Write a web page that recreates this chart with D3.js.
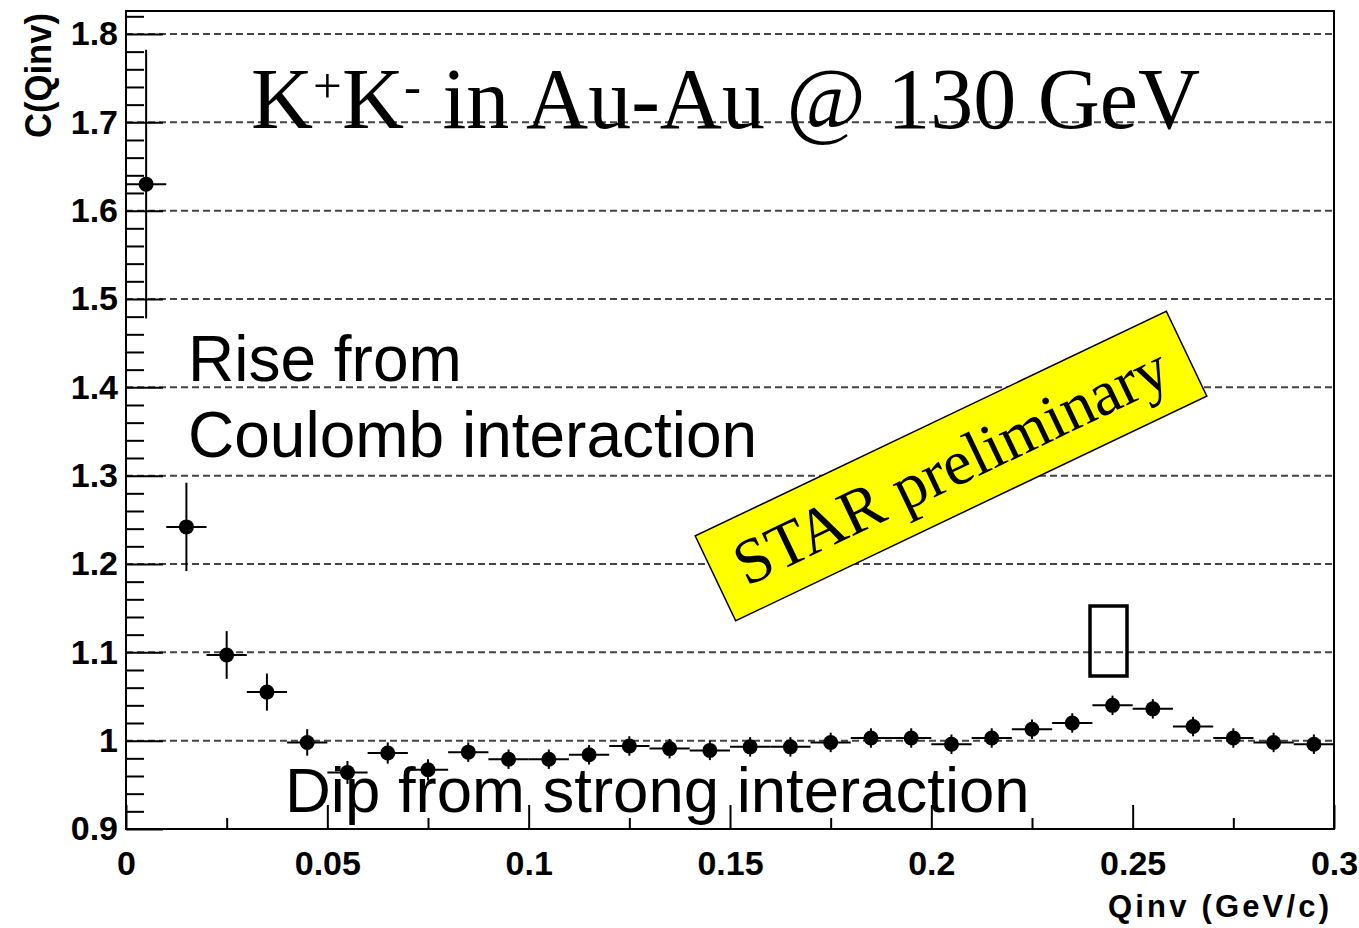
<!DOCTYPE html>
<html>
<head>
<meta charset="utf-8">
<script src="https://cdn.jsdelivr.net/npm/d3@7"></script>
<style>
	body { margin: 0; background: #fff; }
	svg { display: block; }
	.tick text { font-family: "Liberation Sans", Arial, sans-serif; font-weight: bold; fill: #000; }
</style>
</head>
<body>
<div id="chart"></div>
<script>
// bin centres (GeV/c), correlation values and their errors
var qinv = [0.005, 0.015, 0.025, 0.035, 0.045, 0.055, 0.065, 0.075, 0.085, 0.095,
	0.105, 0.115, 0.125, 0.135, 0.145, 0.155, 0.165, 0.175, 0.185, 0.195,
	0.205, 0.215, 0.225, 0.235, 0.245, 0.255, 0.265, 0.275, 0.285, 0.295];
var cValues = [1.630, 1.242, 1.097, 1.055, 0.998, 0.964, 0.986, 0.967, 0.987, 0.979,
	0.979, 0.984, 0.994, 0.991, 0.989, 0.993, 0.993, 0.998, 1.003, 1.003,
	0.996, 1.003, 1.013, 1.020, 1.040, 1.036, 1.016, 1.003, 0.998, 0.996];
var cErrors = [0.152, 0.050, 0.027, 0.021, 0.015, 0.013, 0.012, 0.012, 0.011, 0.011,
	0.011, 0.011, 0.011, 0.011, 0.011, 0.011, 0.011, 0.011, 0.011, 0.011,
	0.011, 0.011, 0.011, 0.011, 0.011, 0.011, 0.011, 0.011, 0.011, 0.011];
var binHalf = 0.005;

var xMajor = [0, 0.05, 0.1, 0.15, 0.2, 0.25, 0.3];
var xMinor = [0.025, 0.075, 0.125, 0.175, 0.225, 0.275];
var yMajor = [0.9, 1.0, 1.1, 1.2, 1.3, 1.4, 1.5, 1.6, 1.7, 1.8];
var yMinor = [0.92, 0.94, 0.96, 0.98, 1.02, 1.04, 1.06, 1.08, 1.12, 1.14, 1.16, 1.18,
	1.22, 1.24, 1.26, 1.28, 1.32, 1.34, 1.36, 1.38, 1.42, 1.44, 1.46, 1.48,
	1.52, 1.54, 1.56, 1.58, 1.62, 1.64, 1.66, 1.68, 1.72, 1.74, 1.76, 1.78, 1.82];
var gridValues = [1.0, 1.1, 1.2, 1.3, 1.4, 1.5, 1.6, 1.7, 1.8];

var settings = {
	width: 1359,
	height: 928,
	left: 126, right: 1334, top: 11, bottom: 829
};

var svg = d3.select('#chart').append('svg')
	.attr('width', settings.width)
	.attr('height', settings.height)

var x = d3.scaleLinear().domain([0, 0.3]).range([settings.left, settings.right])
var y = d3.scaleLinear().domain([0.9, 1.826]).range([settings.bottom, settings.top])

/*dashed grid*/
svg.append('g').selectAll('line')
	.data(gridValues).enter()
	.append('line')
	.attr('x1', settings.left).attr('x2', settings.right)
	.attr('y1', function(d){ return y(d) }).attr('y2', function(d){ return y(d) })
	.attr('stroke', '#444').attr('stroke-width', 2)
	.attr('stroke-dasharray', '7,4')

/*frame*/
svg.append('rect')
	.attr('x', settings.left).attr('y', settings.top)
	.attr('width', settings.right - settings.left)
	.attr('height', settings.bottom - settings.top)
	.attr('fill', 'none').attr('stroke', '#000').attr('stroke-width', 2)

/*axes, ticks point inwards*/
var yAxis = svg.append('g').attr('transform', 'translate(' + settings.left + ',0)')
	.call(d3.axisLeft(y).tickValues(yMajor).tickSize(-37).tickPadding(8)
		.tickFormat(function(d){ return d3.format('.1f')(d).replace('1.0', '1') }))
yAxis.selectAll('text').style('font-size', '34px')
svg.append('g').attr('transform', 'translate(' + settings.left + ',0)')
	.call(d3.axisLeft(y).tickValues(yMinor).tickSize(-18).tickFormat(''))

var xAxis = svg.append('g').attr('transform', 'translate(0,' + settings.bottom + ')')
	.call(d3.axisBottom(x).tickValues(xMajor).tickSize(-24).tickPadding(22)
		.tickFormat(function(d){ return d === 0 ? '0' : String(d) }))
xAxis.selectAll('text').style('font-size', '34px')
svg.append('g').attr('transform', 'translate(0,' + settings.bottom + ')')
	.call(d3.axisBottom(x).tickValues(xMinor).tickSize(-11).tickFormat(''))

svg.selectAll('.domain').remove()
svg.selectAll('.tick line').attr('stroke', '#000').attr('stroke-width', 2)

/*axis titles*/
svg.append('text')
	.attr('transform', 'translate(51,13) rotate(-90)')
	.attr('text-anchor', 'end')
	.attr('textLength', 125).attr('lengthAdjust', 'spacingAndGlyphs')
	.style('font-family', '"Liberation Sans", Arial, sans-serif')
	.style('font-weight', 'bold').style('font-size', '36px')
	.text('C(Qinv)')

svg.append('text')
	.attr('x', 1329).attr('y', 917)
	.attr('text-anchor', 'end')
	.attr('textLength', 221)
	.style('font-family', '"Liberation Sans", Arial, sans-serif')
	.style('font-weight', 'bold').style('font-size', '31px')
	.text('Qinv (GeV/c)')

/*data points with error bars*/
var pts = qinv.map(function(q, i){ return { q: q, c: cValues[i], e: cErrors[i] } })
var marks = svg.append('g').selectAll('g')
	.data(pts).enter().append('g')

marks.append('line')
	.attr('x1', function(d){ return x(d.q - binHalf) })
	.attr('x2', function(d){ return x(d.q + binHalf) })
	.attr('y1', function(d){ return y(d.c) })
	.attr('y2', function(d){ return y(d.c) })
	.attr('stroke', '#000').attr('stroke-width', 2)
marks.append('line')
	.attr('x1', function(d){ return x(d.q) })
	.attr('x2', function(d){ return x(d.q) })
	.attr('y1', function(d){ return y(d.c - d.e) })
	.attr('y2', function(d){ return y(d.c + d.e) })
	.attr('stroke', '#000').attr('stroke-width', 2)
marks.append('circle')
	.attr('cx', function(d){ return x(d.q) })
	.attr('cy', function(d){ return y(d.c) })
	.attr('r', 7.5).attr('fill', '#000')

/*annotations*/
var title = svg.append('text')
	.attr('x', 251).attr('y', 128)
	.style('font-family', '"Liberation Serif", "Times New Roman", serif')
	.style('font-size', '86px')
title.append('tspan').text('K')
title.append('tspan').attr('dy', -25).style('font-size', '51px').text('+')
title.append('tspan').attr('dy', 25).text('K')
title.append('tspan').attr('dy', -25).style('font-size', '51px').text('-')
title.append('tspan').attr('dy', 25).text(' in Au-Au @ 130 GeV')

var sans = '"Liberation Sans", Arial, sans-serif'
svg.append('text').attr('x', 188).attr('y', 381)
	.style('font-family', sans).style('font-size', '64px').text('Rise from')
svg.append('text').attr('x', 188).attr('y', 457)
	.style('font-family', sans).style('font-size', '64px').text('Coulomb interaction')
svg.append('text').attr('x', 285).attr('y', 812)
	.style('font-family', sans).style('font-size', '63.5px').text('Dip from strong interaction')

/*STAR preliminary stamp*/
var stamp = svg.append('g').attr('transform', 'translate(951,466) rotate(-25.5)')
stamp.append('rect')
	.attr('x', -261).attr('y', -47).attr('width', 522).attr('height', 94)
	.attr('fill', '#ffff00').attr('stroke', '#000').attr('stroke-width', 1.5)
stamp.append('text')
	.attr('x', 0).attr('y', 21)
	.attr('text-anchor', 'middle')
	.style('font-family', '"Liberation Serif", "Times New Roman", serif')
	.style('font-size', '64px')
	.text('STAR preliminary')

/*empty glyph box*/
svg.append('rect')
	.attr('x', 1090).attr('y', 606).attr('width', 37).attr('height', 70)
	.attr('fill', 'none').attr('stroke', '#000').attr('stroke-width', 3.5)
</script>
</body>
</html>
